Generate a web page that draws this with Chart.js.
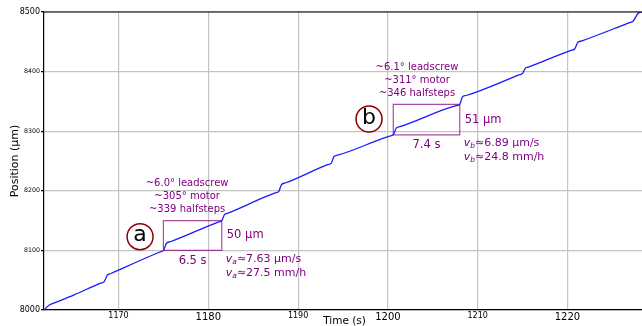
<!DOCTYPE html>
<html>
<head>
<meta charset="utf-8">
<script src="https://cdn.jsdelivr.net/npm/chart.js@4"></script>
<style>
  html, body { margin: 0; padding: 0; background: #fff; }
  #wrap { width: 642px; height: 326px; }
</style>
</head>
<body>
<div id="wrap"><canvas id="posChart" width="642" height="326"></canvas></div>
<script>
// stage position trace: slow drift with a quick step every few seconds
const timeS = [1161.75, 1161.95, 1162.3, 1162.7, 1165.0, 1168.0, 1168.4, 1168.75,
  1169.15, 1174.6, 1175.0, 1175.35, 1175.75, 1181.1, 1181.5, 1181.8,
  1182.2, 1187.45, 1187.85, 1188.15, 1188.55, 1193.3, 1193.7, 1194.0,
  1194.4, 1200.2, 1200.6, 1200.95, 1201.35, 1207.6, 1208.0, 1208.3,
  1208.7, 1214.6, 1215.0, 1215.3, 1215.7, 1220.4, 1220.8, 1221.15,
  1221.55, 1226.9, 1227.3, 1227.85, 1228.3];
const positionUm = [8000, 8004, 8008.5, 8011, 8025, 8045, 8047.5, 8058.5,
  8061.2, 8097.3, 8100, 8112, 8114.5, 8147.5, 8150, 8160,
  8162.6, 8196.4, 8199, 8210.5, 8213.1, 8243.9, 8246.5, 8257.5,
  8259.7, 8291.8, 8294, 8305.5, 8307.7, 8342.8, 8345, 8357.5,
  8359.9, 8394.6, 8397, 8405.5, 8407.9, 8435.6, 8438, 8449,
  8451.3, 8482.2, 8484.5, 8497.5, 8500.5];

// the two measured intervals
const intervalNames = ['a', 'b'];
const intervalStartS = [1175.0, 1200.6];
const intervalLengthS = [6.5, 7.4];
const intervalBaseUm = [8100, 8294];
const intervalRiseUm = [50, 51];
const leadscrewDeg = ['6.0', '6.1'];
const motorDeg = ['305', '311'];
const halfsteps = ['339', '346'];
const speedUmPerS = ['7.63', '6.89'];
const speedMmPerH = ['27.5', '24.8'];
// where the circled letters sit
const markerTimeS = [1172.4, 1197.9];
const markerPosUm = [8123, 8320.5];

const FONT = 'DejaVu Sans';
const PURPLE = '#800080';

const curve = timeS.map((t, i) => ({ x: t, y: positionUm[i] }));
const boxes = intervalNames.map((n, i) => {
  const s = intervalStartS[i], e = s + intervalLengthS[i];
  const b = intervalBaseUm[i], tp = b + intervalRiseUm[i];
  return {
    data: [{ x: s, y: b }, { x: e, y: b }, { x: e, y: tp }, { x: s, y: tp }, { x: s, y: b }],
    borderColor: 'rgba(128,0,128,0.7)',
    borderWidth: 1.2,
    pointRadius: 0,
    tension: 0,
    fill: false
  };
});

const annotate = {
  id: 'annotate',
  afterDatasetsDraw(chart) {
    const { ctx, chartArea, scales: { x, y } } = chart;
    ctx.save();

    // top spine
    ctx.strokeStyle = '#000';
    ctx.lineWidth = 1.2;
    ctx.beginPath();
    ctx.moveTo(chartArea.left, chartArea.top);
    ctx.lineTo(chartArea.right, chartArea.top);
    ctx.stroke();

    intervalNames.forEach((name, i) => {
      const left = x.getPixelForValue(intervalStartS[i]);
      const right = x.getPixelForValue(intervalStartS[i] + intervalLengthS[i]);
      const bottom = y.getPixelForValue(intervalBaseUm[i]);
      const top = y.getPixelForValue(intervalBaseUm[i] + intervalRiseUm[i]);

      ctx.fillStyle = PURPLE;
      ctx.textBaseline = 'middle';

      // rotation summary above the box
      ctx.font = '10px "' + FONT + '"';
      ctx.textAlign = 'center';
      const cx = left + 23.7;
      ctx.fillText('~' + leadscrewDeg[i] + '° leadscrew', cx, top - 37);
      ctx.fillText('~' + motorDeg[i] + '° motor', cx, top - 24);
      ctx.fillText('~' + halfsteps[i] + ' halfsteps', cx, top - 11);

      // box dimensions
      ctx.font = '11.5px "' + FONT + '"';
      ctx.fillText(intervalLengthS[i] + ' s', (left + right) / 2, bottom + 10.5);
      ctx.textAlign = 'left';
      ctx.fillText(intervalRiseUm[i] + ' µm', right + 5, (top + bottom) / 2);

      // speeds with subscripted v
      const lines = ['≈' + speedUmPerS[i] + ' µm/s', '≈' + speedMmPerH[i] + ' mm/h'];
      lines.forEach((txt, k) => {
        const ly = bottom + 8.5 + k * 14;
        let lx = right + 4;
        ctx.font = 'italic 11px "' + FONT + '"';
        ctx.fillText('v', lx, ly);
        lx += ctx.measureText('v').width;
        ctx.font = 'italic 7.5px "' + FONT + '"';
        ctx.fillText(name, lx, ly + 3);
        lx += ctx.measureText(name).width;
        ctx.font = '11px "' + FONT + '"';
        ctx.fillText(txt, lx, ly);
      });

      // circled letter
      const mx = x.getPixelForValue(markerTimeS[i]);
      const my = y.getPixelForValue(markerPosUm[i]);
      ctx.beginPath();
      ctx.arc(mx, my, 13, 0, Math.PI * 2);
      ctx.fillStyle = '#fff';
      ctx.fill();
      ctx.strokeStyle = '#8b0000';
      ctx.lineWidth = 1.5;
      ctx.stroke();
      ctx.fillStyle = '#000';
      ctx.textAlign = 'center';
      ctx.font = '22px "' + FONT + '"';
      ctx.fillText(name, mx, my - 1);
    });

    // axis titles
    ctx.fillStyle = '#000';
    ctx.textAlign = 'center';
    ctx.textBaseline = 'middle';
    ctx.font = '10.5px "' + FONT + '"';
    ctx.fillText('Time (s)', 344.5, 321.5);
    ctx.translate(15, (chartArea.top + chartArea.bottom) / 2);
    ctx.rotate(-Math.PI / 2);
    ctx.font = '11px "' + FONT + '"';
    ctx.fillText('Position (µm)', 0, 0);

    ctx.restore();
  }
};

new Chart(document.getElementById('posChart').getContext('2d'), {
  type: 'line',
  data: {
    datasets: [{
      data: curve,
      borderColor: '#1a1aff',
      borderWidth: 1.3,
      pointRadius: 0,
      cubicInterpolationMode: 'monotone',
      fill: false
    }].concat(boxes)
  },
  options: {
    responsive: false,
    animation: false,
    devicePixelRatio: 1,
    layout: { padding: { top: 12, right: 0, left: 0, bottom: 0 } },
    plugins: { legend: { display: false }, tooltip: { enabled: false } },
    scales: {
      x: {
        type: 'linear',
        min: 1161.7,
        max: 1228.3,
        afterFit: s => { s.height = 16; },
        border: { display: true, color: '#000', width: 1.2 },
        grid: { color: '#c4c4c4', lineWidth: 1.2, drawTicks: false },
        ticks: {
          stepSize: 10,
          includeBounds: false,
          padding: 1,
          color: '#000',
          maxRotation: 0,
          callback: v => String(v),
          font: c => ({ family: FONT, size: c.tick && c.tick.value % 20 === 0 ? 10 : 8 })
        }
      },
      y: {
        type: 'linear',
        min: 8000,
        max: 8500,
        afterFit: s => { s.width = 44; },
        border: { display: true, color: '#000', width: 1.2 },
        grid: { color: '#c4c4c4', lineWidth: 1.2, tickLength: 3, tickColor: '#000' },
        ticks: {
          stepSize: 100,
          padding: 1,
          color: '#000',
          callback: v => String(v),
          font: c => ({ family: FONT, size: c.tick && c.tick.value % 500 === 0 ? 8 : 6.3 })
        }
      }
    }
  },
  plugins: [annotate]
});
</script>
</body>
</html>
